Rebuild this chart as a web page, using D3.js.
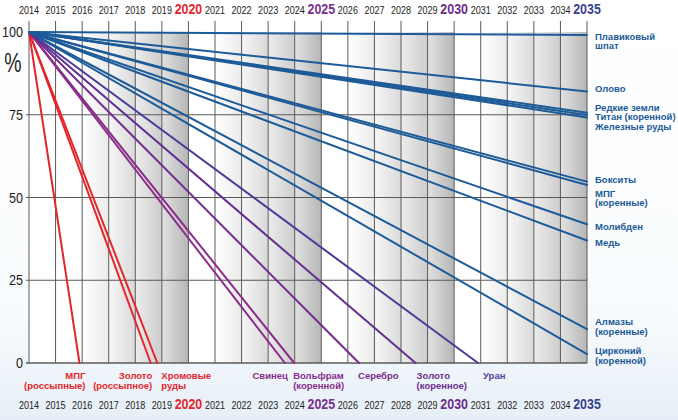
<!DOCTYPE html>
<html><head><meta charset="utf-8">
<script src="https://cdn.jsdelivr.net/npm/d3@7"></script>
<style>
html,body{margin:0;padding:0;background:#fff;}
svg{display:block;}
</style></head>
<body>
<svg id="chart" width="678" height="420"></svg>
<script>
// ---------- DATA ----------
const years = d3.range(2014, 2036);
const yTicks = [0, 25, 50, 75, 100];

// resources that run out before 2035 (year when reserves reach 0 %)
const depletedNames = ["МПГ (россыпные)", "Золото (россыпное)", "Хромовые руды", "Свинец",
  "Вольфрам (коренной)", "Серебро", "Золото (коренное)", "Уран"];
const depletedYears = [2015.9, 2018.58, 2018.83, 2023.63, 2023.98, 2026.42, 2028.55, 2030.9];

// resources still available in 2035 (% of 2014 reserves)
const remainingNames = ["Плавиковый шпат", "Олово", "Редкие земли", "Титан (коренной)",
  "Железные руды", "Бокситы", "МПГ (коренные)", "Молибден", "Медь",
  "Алмазы (коренные)", "Цирконий (коренной)"];
const remaining2035 = [99.1, 82.0, 75.6, 74.9, 74.2, 54.8, 53.8, 41.9, 37.0, 10.2, 2.7];

const startYear = 2014, endYear = 2035, startValue = 100;

// ---------- STYLE / LAYOUT ----------
const W = 678, H = 420;
const svg = d3.select("#chart");
const x = d3.scaleLinear().domain([startYear, endYear]).range([29, 587]);
const y = d3.scaleLinear().domain([0, 100]).range([363, 32]);

const RED = "#e4262b", PURP1 = "#8b2d8b", PURP2 = "#752d8c", PURP3 = "#623092", VIOL = "#4b3a98", BLUE = "#1d5b98";
const depletedColors = [RED, RED, RED, PURP1, PURP1, PURP2, PURP3, VIOL];
const depletedLabelColors = [RED, RED, RED, PURP1, PURP1, "#7a2d8c", "#6e2f8e", "#54459c"];
const depletedLabelLines = [["МПГ", "(россыпные)"], ["Золото", "(россыпное)"], ["Хромовые", "руды"],
  ["Свинец"], ["Вольфрам", "(коренной)"], ["Серебро"], ["Золото", "(коренное)"], ["Уран"]];
const depletedLabelAnchor = ["end", "end", "start", "end", "start", "start", "start", "start"];
const depletedLabelDx = [6, 1.5, 4, 3, -1, -1, 1, 5];

const remainingLabelLines = [["Плавиковый", "шпат"], ["Олово"], ["Редкие земли"], ["Титан (коренной)"],
  ["Железные руды"], ["Бокситы"], ["МПГ", "(коренные)"], ["Молибден"], ["Медь"],
  ["Алмазы", "(коренные)"], ["Цирконий", "(коренной)"]];
const remainingLabelBaseline = [39.5, 91.5, 110.5, 120, 129.5, 182.5, 196.5, 229.5, 246, 325, 354];

const bigYears = {2020: "#e3262b", 2025: "#7b2f8e", 2030: "#6c2d88", 2035: "#3b3f8f"};
const baseFont = "'Liberation Sans',Arial,sans-serif";

// ---------- DEFS ----------
const defs = svg.append("defs");
const bg = defs.append("linearGradient").attr("id", "bg").attr("x1", 0).attr("y1", 0).attr("x2", 0).attr("y2", 1);
bg.append("stop").attr("offset", "0%").attr("stop-color", "#ffffff");
bg.append("stop").attr("offset", "75%").attr("stop-color", "#f8fbfd");
bg.append("stop").attr("offset", "100%").attr("stop-color", "#e6eff7");

const shadeLevels = [["#ffffff", "#ffffff"], ["#ffffff", "#ebebeb"], ["#f6f6f6", "#dadada"],
  ["#ececec", "#cdcdcd"], ["#e2e2e2", "#b6b6b6"]];
shadeLevels.forEach((c, i) => {
  const g = defs.append("linearGradient").attr("id", "shade" + i).attr("x1", 0).attr("y1", 0).attr("x2", 1).attr("y2", 0);
  g.append("stop").attr("offset", "0%").attr("stop-color", c[0]);
  g.append("stop").attr("offset", "100%").attr("stop-color", c[1]);
});

svg.append("rect").attr("width", W).attr("height", H).attr("fill", "url(#bg)");

// column shading
const cols = years.slice(0, -1);
svg.append("g").selectAll("rect").data(cols).join("rect")
  .attr("x", d => x(d)).attr("width", d => x(d + 1) - x(d))
  .attr("y", y(100)).attr("height", y(0) - y(100))
  .attr("fill", d => d < 2015 ? "url(#shade0)" : `url(#shade${(d - 2015) % 5})`);

// vertical grid
svg.append("g").selectAll("line").data(years).join("line")
  .attr("x1", d => x(d)).attr("x2", d => x(d))
  .attr("y1", 21).attr("y2", y(0))
  .attr("stroke", "#5a5a5a").attr("stroke-width", 1);

// horizontal grid (axis at 0 included)
svg.append("g").selectAll("line").data(yTicks.filter(t => t < 100)).join("line")
  .attr("x1", x(startYear) - 3).attr("x2", x(endYear))
  .attr("y1", d => y(d)).attr("y2", d => y(d))
  .attr("stroke", "#5a5a5a").attr("stroke-width", d => d === 0 ? 1.4 : 1);

// y tick labels (condensed)
svg.append("g").selectAll("text").data(yTicks).join("text")
  .attr("transform", d => `translate(23,${y(d)}) scale(0.9,1)`)
  .attr("dy", "0.36em")
  .attr("text-anchor", "end")
  .attr("font-family", baseFont)
  .attr("font-size", 14).attr("fill", "#222").text(d => d);
svg.append("text").attr("transform", "translate(13,72) scale(0.72,1)").attr("text-anchor", "middle")
  .attr("font-family", baseFont)
  .attr("font-size", 27).attr("fill", "#222").text("%");

// year labels top & bottom (condensed)
[14, 409].forEach(by => {
  svg.append("g").selectAll("text").data(years).join("text")
    .attr("transform", d => `translate(${x(d)},${by}) scale(${bigYears[d] ? 0.8 : 0.86},1)`)
    .attr("text-anchor", "middle")
    .attr("font-family", baseFont)
    .attr("font-size", d => bigYears[d] ? 15.5 : 10.5)
    .attr("font-weight", d => bigYears[d] ? "bold" : "normal")
    .attr("fill", d => bigYears[d] || "#222")
    .text(d => d);
});

// lines
const lineG = svg.append("g").attr("fill", "none").attr("stroke-linecap", "round");
lineG.selectAll("line.dep").data(depletedYears).join("line").attr("class", "dep")
  .attr("x1", x(startYear)).attr("y1", y(startValue))
  .attr("x2", d => x(d)).attr("y2", y(0))
  .attr("stroke", (d, i) => depletedColors[i]).attr("stroke-width", 2);
lineG.selectAll("line.rem").data(remaining2035).join("line").attr("class", "rem")
  .attr("x1", x(startYear)).attr("y1", y(startValue))
  .attr("x2", x(endYear)).attr("y2", d => y(d))
  .attr("stroke", BLUE).attr("stroke-width", 2);

// bottom labels
depletedYears.forEach((yr, i) => {
  const t = svg.append("text")
    .attr("x", x(yr) + depletedLabelDx[i]).attr("y", 378.5)
    .attr("text-anchor", depletedLabelAnchor[i])
    .attr("font-family", baseFont).attr("font-size", 9.5).attr("font-weight", "bold")
    .attr("fill", depletedLabelColors[i]);
  depletedLabelLines[i].forEach((ln, j) => {
    t.append("tspan").attr("x", x(yr) + depletedLabelDx[i]).attr("dy", j === 0 ? 0 : 10).text(ln);
  });
});
// right labels
remaining2035.forEach((v, i) => {
  const t = svg.append("text")
    .attr("x", x(endYear) + 8).attr("y", remainingLabelBaseline[i])
    .attr("font-family", baseFont).attr("font-size", 9.5).attr("font-weight", "bold")
    .attr("fill", BLUE);
  remainingLabelLines[i].forEach((ln, j) => {
    t.append("tspan").attr("x", x(endYear) + 8).attr("dy", j === 0 ? 0 : 9.8).text(ln);
  });
});
</script>
</body></html>
